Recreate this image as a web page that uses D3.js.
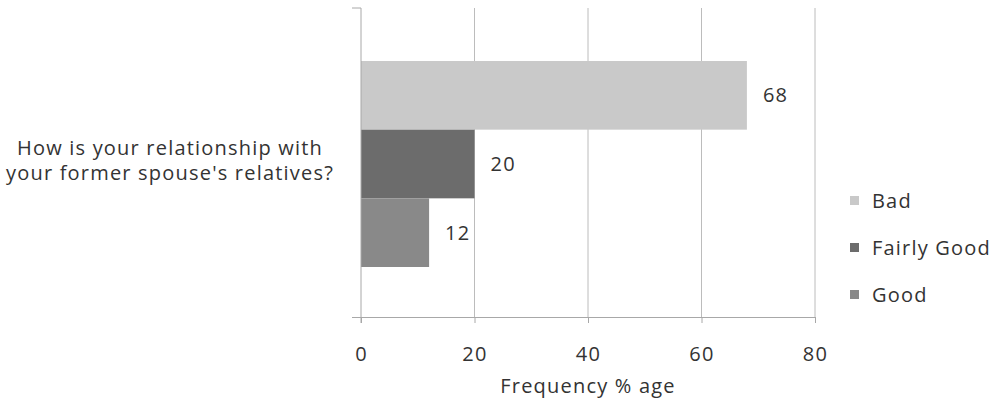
<!DOCTYPE html>
<html><head><meta charset="utf-8">
<script src="https://cdn.jsdelivr.net/npm/d3@7"></script>
<style>body{margin:0;background:#fff}svg text{font-family:"Open Sans",sans-serif;fill:#333;letter-spacing:1.2px}</style>
</head><body><svg id="c" width="997" height="409"></svg>
<script>
const categoryLines = ["How is your relationship with", "your former spouse's relatives?"];
const seriesNames = ["Bad", "Fairly Good", "Good"];
const seriesValues = [68, 20, 12];
const seriesColors = ["#c9c9c9", "#6c6c6c", "#898989"];
const xTicks = [0, 20, 40, 60, 80];
const xTitle = "Frequency % age";

const FS = 20;
const svg = d3.select("#c");
const pL = 361, pR = 815, pT = 8, pB = 317;
const x = d3.scaleLinear().domain([0, 80]).range([pL, pR]);
const band = d3.scaleBand().domain(["q"]).range([pT, pB]).paddingInner(0).paddingOuter(0);
const inner = d3.scaleBand().domain(seriesNames).range([band("q") + 53, band("q") + band.bandwidth() - 50]);

// gridlines
svg.append("g").selectAll("line").data(xTicks.slice(1)).join("line")
  .attr("x1", d => x(d)).attr("x2", d => x(d)).attr("y1", pT).attr("y2", pB)
  .attr("stroke", "#bcbcbc").attr("stroke-width", 1);

// bars
svg.append("g").selectAll("rect").data(seriesNames).join("rect")
  .attr("x", x(0)).attr("y", d => inner(d))
  .attr("width", (d, i) => x(seriesValues[i]) - x(0))
  .attr("height", inner.bandwidth())
  .attr("fill", (d, i) => seriesColors[i]);

// value labels
svg.append("g").selectAll("text").data(seriesNames).join("text")
  .attr("x", (d, i) => x(seriesValues[i]) + 16)
  .attr("y", d => inner(d) + inner.bandwidth() / 2)
  .attr("dy", "0.35em").attr("font-size", FS)
  .text((d, i) => seriesValues[i]);

// x axis
const xa = svg.append("g").attr("transform", `translate(0,${pB})`)
  .call(d3.axisBottom(x).tickValues(xTicks).tickSize(6).tickPadding(24));
xa.select(".domain").attr("stroke", "#a8a8a8").attr("d", `M${pL - 9},0.5H${pR}`);
xa.selectAll(".tick line").attr("stroke", "#a8a8a8");
xa.selectAll(".tick text").attr("font-size", FS).attr("fill", "#333").style("font-family", "'Open Sans',sans-serif");

// y axis
const ya = svg.append("g").attr("transform", `translate(${pL},0)`);
ya.append("line").attr("x1", 0).attr("x2", 0).attr("y1", pT).attr("y2", pB + 6).attr("stroke", "#a8a8a8");
ya.append("line").attr("x1", -9).attr("x2", 0).attr("y1", pT).attr("y2", pT).attr("stroke", "#a8a8a8");

// category label
const cy = band("q") + band.bandwidth() / 2;
svg.append("text").attr("text-anchor", "middle").attr("font-size", FS)
  .selectAll("tspan").data(categoryLines).join("tspan")
  .attr("x", 170).attr("y", (d, i) => cy - 15 + i * 25).attr("dy", "0.35em").text(d => d);

// x title
svg.append("text").attr("x", x(40)).attr("y", 386).attr("dy", "0.35em").attr("text-anchor", "middle").attr("font-size", FS).text(xTitle);

// legend
const lg = svg.append("g").attr("transform", "translate(850,201)");
const li = lg.selectAll("g").data(seriesNames).join("g").attr("transform", (d, i) => `translate(0,${i * 47})`);
li.append("rect").attr("x", 0).attr("y", -5).attr("width", 9).attr("height", 9).attr("fill", (d, i) => seriesColors[i]);
li.append("text").attr("x", 22).attr("y", 0).attr("dy", "0.35em").attr("font-size", FS).text(d => d);
</script></body></html>
